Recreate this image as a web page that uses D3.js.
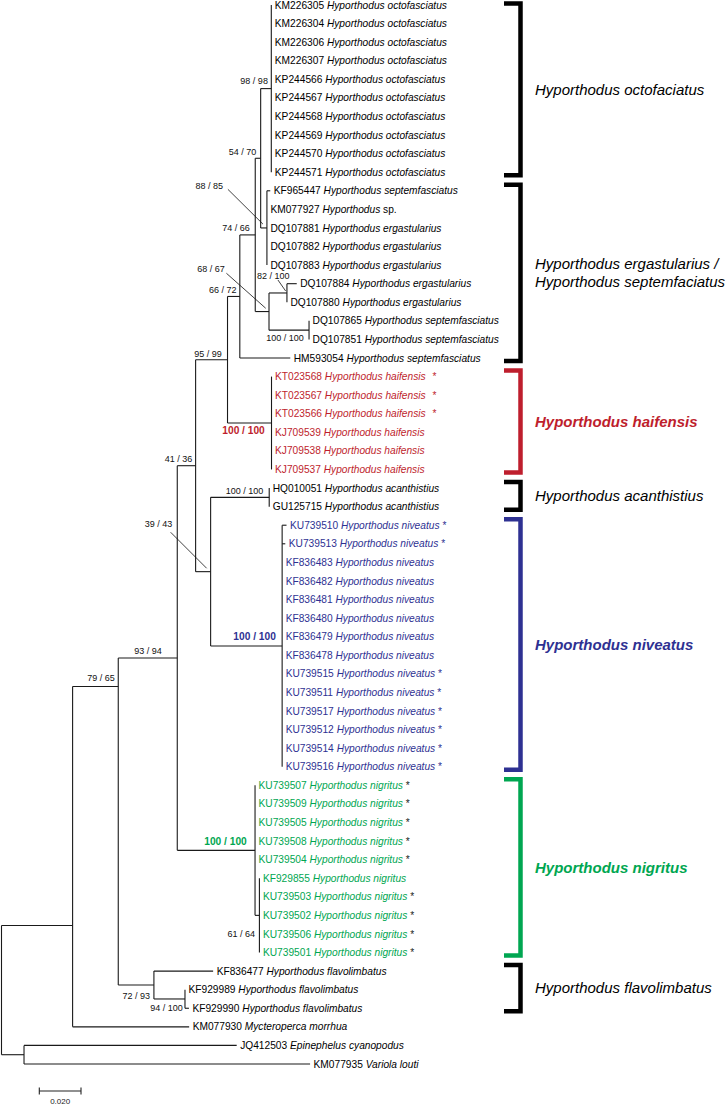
<!DOCTYPE html>
<html><head><meta charset="utf-8">
<script src="https://cdn.jsdelivr.net/npm/d3@7"></script>
<style>
body{margin:0;background:#fff}
svg{display:block}
text{font-family:"Liberation Sans",Arial,Helvetica,sans-serif}
</style>
</head><body>
<svg id="chart" width="726" height="1105"></svg>
<script>
// ---------------- DATA ----------------
// Topology, branch lengths (substitutions/site) and support values (ML / NJ)
const newick =
 "((((((((((KM226305:0,KM226304:0,KM226306:0,KM226307:0,KP244566:0,KP244567:0,KP244568:0,KP244569:0,KP244570:0,KP244571:0)98/98:0.0051," +
 "(KF965447:0.0016,KM077927:0,DQ107881:0,DQ107882:0,DQ107883:0)88/85:0.0030)54/70:0.0026," +
 "((DQ107884:0.0047,DQ107880:0)82/100:0.0086,(DQ107865:0,DQ107851:0)100/100:0.0192)68/67:0.0066)74/66:0.0074," +
 "HM593054:0.0242)66/72:0.0059," +
 "(KT023568:0,KT023567:0,KT023566:0,KJ709539:0,KJ709538:0,KJ709537:0)100/100:0.0211)95/99:0.0153," +
 "((HQ010051:0,GU125715:0)100/100:0.0281," +
 "(KU739510:0.0021,KU739513:0.0015,KF836483:0,KF836482:0,KF836481:0,KF836480:0,KF836479:0,KF836478:0,KU739515:0,KU739511:0,KU739517:0,KU739512:0,KU739514:0,KU739516:0)100/100:0.0343)39/43:0.0072)41/36:0.0088," +
 "(KU739507:0,KU739509:0,KU739505:0,KU739508:0,KU739504:0,(KF929855:0,KU739503:0,KU739502:0,KU739506:0,KU739501:0)61/64:0.0021)100/100:0.0373)93/94:0.0283," +
 "(KF836477:0.0284,(KF929989:0,KF929990:0.0019)94/100:0.0149)72/93:0.0171)79/65:0.0219," +
 "KM077930:0.0559):0.0341," +
 "(JQ412503:0.1020,KM077935:0.1372):0.0108);";

const accessions = [
 "KM226305","KM226304","KM226306","KM226307","KP244566","KP244567","KP244568","KP244569","KP244570","KP244571",
 "KF965447","KM077927","DQ107881","DQ107882","DQ107883","DQ107884","DQ107880","DQ107865","DQ107851","HM593054",
 "KT023568","KT023567","KT023566","KJ709539","KJ709538","KJ709537",
 "HQ010051","GU125715",
 "KU739510","KU739513","KF836483","KF836482","KF836481","KF836480","KF836479","KF836478","KU739515","KU739511","KU739517","KU739512","KU739514","KU739516",
 "KU739507","KU739509","KU739505","KU739508","KU739504","KF929855","KU739503","KU739502","KU739506","KU739501",
 "KF836477","KF929989","KF929990","KM077930","JQ412503","KM077935"
];
const species = [
 ...Array(10).fill("Hyporthodus octofasciatus"),
 "Hyporthodus septemfasciatus","Hyporthodus sp.",
 "Hyporthodus ergastularius","Hyporthodus ergastularius","Hyporthodus ergastularius","Hyporthodus ergastularius","Hyporthodus ergastularius",
 "Hyporthodus septemfasciatus","Hyporthodus septemfasciatus","Hyporthodus septemfasciatus",
 ...Array(6).fill("Hyporthodus haifensis"),
 "Hyporthodus acanthistius","Hyporthodus acanthistius",
 ...Array(14).fill("Hyporthodus niveatus"),
 ...Array(10).fill("Hyporthodus nigritus"),
 "Hyporthodus flavolimbatus","Hyporthodus flavolimbatus","Hyporthodus flavolimbatus",
 "Mycteroperca morrhua","Epinephelus cyanopodus","Variola louti"
];
// sequences marked with an asterisk (new sequences)
const starred = ["KT023568","KT023567","KT023566",
 "KU739510","KU739513","KU739515","KU739511","KU739517","KU739512","KU739514","KU739516",
 "KU739507","KU739509","KU739505","KU739508","KU739504","KU739503","KU739502","KU739506","KU739501"];

// clade brackets
const cladeLabels = [
 ["Hyporthodus octofaciatus"],
 ["Hyporthodus ergastularius /","Hyporthodus septemfaciatus"],
 ["Hyporthodus haifensis"],
 ["Hyporthodus acanthistius"],
 ["Hyporthodus niveatus"],
 ["Hyporthodus nigritus"],
 ["Hyporthodus flavolimbatus"]
];
const cladeFirst = ["KM226305","KF965447","KT023568","HQ010051","KU739510","KU739507","KF836477"];
const cladeLast  = ["KP244571","HM593054","KJ709537","GU125715","KU739516","KU739501","KF929990"];
const cladeColor = ["#000","#000","#be1e2d","#000","#2e3192","#00a651","#000"];
const cladeBold  = [false,false,true,false,true,true,false];

const scaleBarValue = 0.02;
const scaleBarLabel = "0.020";

// ---------------- LAYOUT (positions/styles) ----------------
// support label placement relative to node: [textEnd dx, centre dy, optional leader x1,y1,x2,y2]
const supportPos = {
 "KM226305|KP244571":[-3.4,-7.6],
 "KF965447|DQ107883":[-44,-41.9,-39,-38.6,-4,-3.9],
 "KM226305|DQ107883":[-4.3,-6.6],
 "DQ107884|DQ107880":[2.7,-17.3,-9,-13,-1.3,-2],
 "DQ107865|DQ107851":[-5.3,8.1],
 "DQ107884|DQ107851":[-44.3,-42.3,-42.6,-38.3,-3.3,-3.3],
 "KM226305|DQ107851":[-5.5,-6.6],
 "KM226305|HM593054":[-3.3,-6.5],
 "KT023568|KJ709537":[-6.7,7.9],
 "KM226305|KJ709537":[-5.7,-5.8],
 "HQ010051|GU125715":[-6,-6.4],
 "KU739510|KU739516":[-6.3,-9.3],
 "HQ010051|KU739516":[-38.4,-47.4,-40,-39.4,-4,-3.4],
 "KM226305|KU739516":[-3.4,-6.5],
 "KF929855|KU739501":[-4.3,18.5],
 "KU739507|KU739501":[-8.3,-8.7],
 "KM226305|KU739501":[-15.6,-7.4],
 "KF929989|KF929990":[-2.3,9.3],
 "KF836477|KF929990":[-4,10.6],
 "KM226305|KF929990":[-3.5,-8.5]
};
const boldSupport = {"KT023568|KJ709537":"#be1e2d","KU739510|KU739516":"#2e3192","KU739507|KU739501":"#00a651"};
// nodes drawn off their children's midpoint in the original figure (pixel y)
const nodeYOverride = {"KM226305|KF929990":686.5, "KM226305|KM077930":925.5};

// ---------------- PARSE ----------------
function parseNewick(s){
  let i=0;
  function node(){
    const n={children:[],name:"",len:0};
    if(s[i]==="("){ i++; do{ n.children.push(node()); } while(s[i++]===","); }
    let name=""; while(i<s.length && !",():;".includes(s[i])) name+=s[i++];
    n.name=name;
    if(s[i]===":"){ i++; let t=""; while(i<s.length && !",();".includes(s[i])) t+=s[i++]; n.len=+t; }
    return n;
  }
  return node();
}
const root = d3.hierarchy(parseNewick(newick), d=>d.children.length?d.children:null);
root.eachBefore(d=>{ d.dist=(d.parent?d.parent.dist:0)+(d.parent?d.data.len:0); });

const x = d3.scaleLinear().domain([0,scaleBarValue]).range([1.5,43.2]);
const y = d3.scaleLinear().domain([0,accessions.length-1]).range([5,1064]);

const leafIndex = new Map(accessions.map((a,i)=>[a,i]));
const keyOf = d=>{ const lv=d.leaves(); return lv[0].data.name+"|"+lv[lv.length-1].data.name; };
root.leaves().forEach(l=>{ l.yy=y(leafIndex.get(l.data.name)); });
root.eachAfter(d=>{
  if(d.children){
    d.yy=(d.children[0].yy+d.children[d.children.length-1].yy)/2;
    const k=keyOf(d); if(nodeYOverride[k]!==undefined) d.yy=nodeYOverride[k];
  }
  d.xx=x(d.dist);
});

const svg=d3.select("#chart");
const gTree=svg.append("g").attr("stroke","#1a1a1a").attr("stroke-width",1.1).attr("fill","none");
// horizontal branches
root.descendants().filter(d=>d.parent && d.xx-d.parent.xx>0.05).forEach(d=>{
  gTree.append("line").attr("x1",d.parent.xx).attr("x2",d.xx).attr("y1",d.yy).attr("y2",d.yy);
});
// vertical connectors
root.descendants().filter(d=>d.children).forEach(d=>{
  const ys=[d.yy, ...d.children.map(c=>c.yy)];
  gTree.append("line").attr("x1",d.xx).attr("x2",d.xx)
    .attr("y1",d3.min(ys)).attr("y2",d3.max(ys));
});

// leaf labels
const cladeOf = new Map();
cladeFirst.forEach((f,ci)=>{ for(let k=leafIndex.get(f);k<=leafIndex.get(cladeLast[ci]);k++) cladeOf.set(accessions[k],ci); });
const starSet=new Set(starred);
const gLeaf=svg.append("g").attr("font-size",10.2);
root.leaves().forEach(l=>{
  const acc=l.data.name, idx=leafIndex.get(acc), ci=cladeOf.get(acc);
  const col = ci!==undefined ? cladeColor[ci] : "#000";
  const t=gLeaf.append("text").attr("x",l.xx+3.5).attr("y",l.yy).attr("dy","0.35em").attr("fill",col);
  t.append("tspan").text(acc+" ");
  const sp=species[idx].split(" ");
  if(sp[1]==="sp."){
    t.append("tspan").attr("font-style","italic").text(sp[0]);
    t.append("tspan").text(" sp.");
  } else {
    t.append("tspan").attr("font-style","italic").text(species[idx]);
  }
  if(starSet.has(acc)){
    const starCol = ci===2 ? "#be1e2d" : ci===4 ? "#2e3192" : "#222";
    t.append("tspan").attr("fill",starCol).attr("dx", ci===2?4:0).text(" *");
  }
});

// support labels
const gSup=svg.append("g");
root.descendants().filter(d=>d.children && d.data.name).forEach(d=>{
  const key=keyOf(d);
  const p=supportPos[key]; if(!p) return;
  const bold=boldSupport[key];
  gSup.append("text").attr("x",d.xx+p[0]).attr("y",d.yy+p[1]).attr("dy","0.35em")
    .attr("text-anchor","end").attr("font-size",bold?10.2:9).attr("font-weight",bold?"bold":"normal")
    .attr("fill",bold||"#111").text(d.data.name.replace("/"," / "));
  if(p.length>2){
    gSup.append("line").attr("x1",d.xx+p[2]).attr("y1",d.yy+p[3]).attr("x2",d.xx+p[4]).attr("y2",d.yy+p[5])
      .attr("stroke","#111").attr("stroke-width",0.8);
  }
});

// clade brackets
const bx=520.5, bs=504;
cladeLabels.forEach((lines,ci)=>{
  const top=Math.max(3.5, y(leafIndex.get(cladeFirst[ci]))-6);
  const bot=y(leafIndex.get(cladeLast[ci]))+3;
  svg.append("path").attr("d",`M${bs},${top}H${bx}V${bot}H${bs}`)
    .attr("fill","none").attr("stroke",cladeColor[ci]).attr("stroke-width",4.5).attr("stroke-linejoin","miter");
  const mid=(top+bot)/2, lh=18.3;
  lines.forEach((s,k)=>{
    svg.append("text").attr("x",535).attr("y",mid+(k-(lines.length-1)/2)*lh).attr("dy","0.35em")
      .attr("font-size",15).attr("font-style","italic").attr("font-weight",cladeBold[ci]?"bold":"normal")
      .attr("fill",cladeColor[ci]).text(s);
  });
});

// scale bar
const sbX=39.3, sbY=1091, sbW=x(scaleBarValue)-x(0);
const gs=svg.append("g").attr("stroke","#222").attr("stroke-width",1.1);
gs.append("line").attr("x1",sbX).attr("x2",sbX+sbW).attr("y1",sbY).attr("y2",sbY);
gs.append("line").attr("x1",sbX).attr("x2",sbX).attr("y1",sbY-3.5).attr("y2",sbY+3.5);
gs.append("line").attr("x1",sbX+sbW).attr("x2",sbX+sbW).attr("y1",sbY-3.5).attr("y2",sbY+3.5);
svg.append("text").attr("x",sbX+sbW/2).attr("y",1101).attr("dy","0.35em").attr("text-anchor","middle")
  .attr("font-size",8).attr("fill","#222").text(scaleBarLabel);
</script>
</body></html>
